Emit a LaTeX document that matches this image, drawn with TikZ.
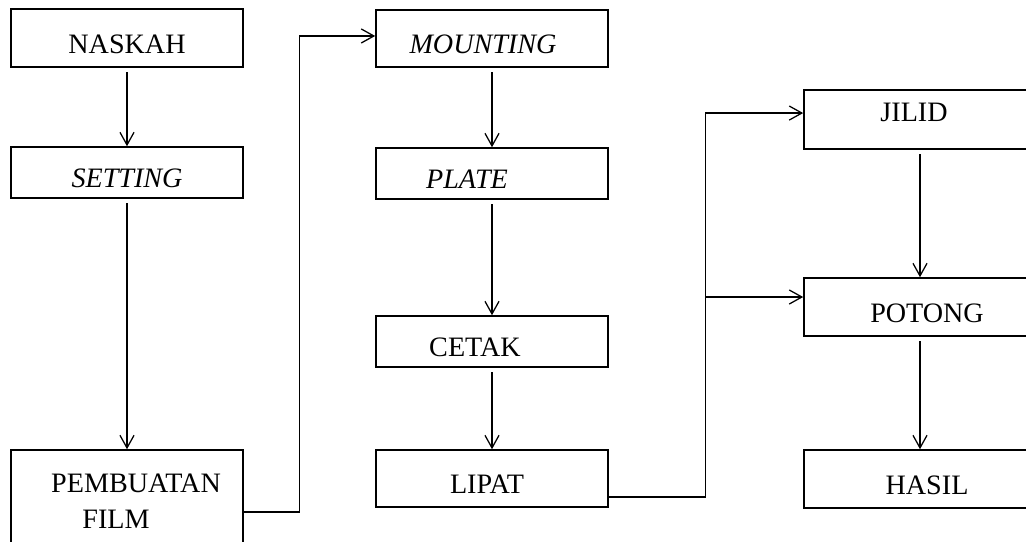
\documentclass[tikz,border=0pt]{standalone}
\usepackage{fontspec}
\setmainfont{Liberation Serif}
\usetikzlibrary{arrows.meta}
\tikzset{
  box/.style={draw,line width=1.1pt,minimum width=5.8cm,inner sep=0pt,
    font=\fontsize{20}{25.6}\selectfont,text height=21.8pt,text depth=0pt},
  flow/.style={->,line width=0.9pt,shorten <=3pt},
}
\begin{document}
\begin{tikzpicture}[x=0.025cm,y=-0.025cm,line join=miter,
    >={Straight Barb[length=9pt,width=10pt]}]
  \useasboundingbox (0,0) rectangle (1026,541);
  \clip (0,0) rectangle (1026,541);
  % first column
  \node[box,minimum height=1.45cm] (naskah) at (127,38) {NASKAH};
  \node[box,minimum height=1.275cm] (setting) at (127,172.5) {\textit{SETTING}};
  \node[box,minimum height=2.55cm,align=center,text height=,text depth=] (film) at (127,501)
    {\hspace*{12.8pt}PEMBUATAN\\FILM\hspace*{15.6pt}};
  % second column
  \node[box,minimum height=1.425cm] (mounting) at (492,38.5) {\textit{MOUNTING}\hspace*{12.8pt}};
  \node[box,minimum height=1.275cm] (plate) at (492,173.5) {\textit{PLATE}\hspace*{35.6pt}};
  \node[box,minimum height=1.275cm] (cetak) at (492,341.5) {CETAK\hspace*{24.2pt}};
  \node[box,minimum height=1.425cm] (lipat) at (492,478.5) {LIPAT\hspace*{7.1pt}};
  % third column
  \node[box,minimum height=1.475cm,text height=13.24pt,text depth=10pt] (jilid) at (920,119.5) {JILID\hspace*{8.5pt}};
  \node[box,minimum height=1.45cm] (potong) at (920,307) {\hspace*{10pt}POTONG};
  \node[box,minimum height=1.45cm] (hasil) at (920,479) {\hspace*{10pt}HASIL};
  % connectors
  \draw[flow] (naskah) -- (setting);
  \draw[flow] (setting) -- (film);
  \draw[flow] (mounting) -- (plate);
  \draw[flow] (plate) -- (cetak);
  \draw[flow] (cetak) -- (lipat);
  \draw[flow] (jilid) -- (potong);
  \draw[flow] (potong) -- (hasil);
  \draw[flow,shorten <=0pt] ([yshift=-7.8pt]film.east) -- ++(56,0) |- ([yshift=1.8pt]mounting.west);
  \draw[flow,shorten <=0pt] ([yshift=-13.2pt]lipat.east) -- ++(97,0) coordinate (fork)
    |- ([yshift=4.6pt]jilid.west);
  \draw[flow] (fork) |- ([yshift=7.1pt]potong.west);
\end{tikzpicture}
\end{document}
